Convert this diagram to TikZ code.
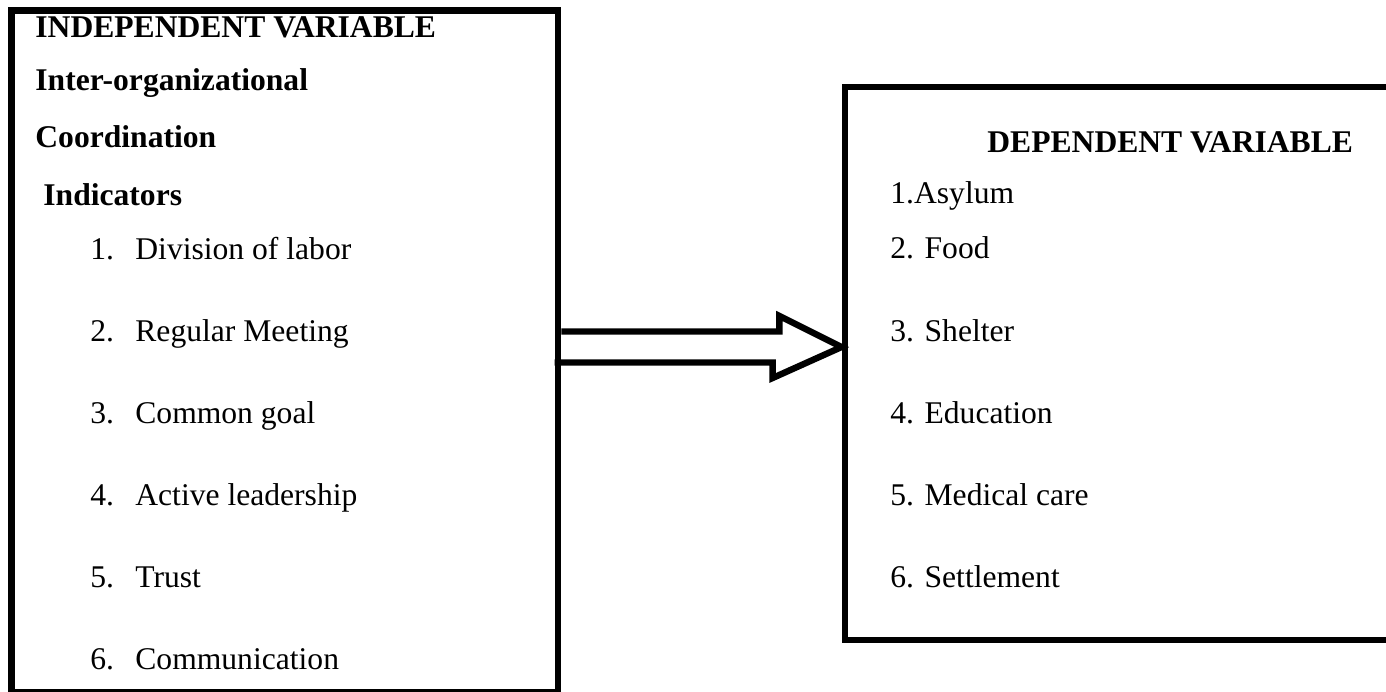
\documentclass[tikz,border=0pt]{standalone}
\usepackage{fontspec}
\setmainfont{Liberation Serif}
\usepackage{tikz}
\usetikzlibrary{positioning}

\tikzset{
  varbox/.style={draw, line width=3.4pt, inner sep=0pt},
  txt/.style={anchor=base west, inner sep=0pt, font=\fontsize{15.8}{19}\selectfont},
  headtxt/.style={txt, font=\fontsize{15.8}{19}\selectfont\bfseries},
  hollowarrow/.style={draw, line width=3.2pt, line join=miter, miter limit=10}
}

\begin{document}
\begin{tikzpicture}[x=0.5pt,y=0.5pt,yscale=-1]
	%set diagram size: 1386 x 691
	\useasboundingbox (0,0) rectangle (1386,691);
	\clip (0,0) rectangle (1386,691);
	
	%Shape: Rectangle [independent variable]
	\node (indep) [varbox, minimum width=273.25pt, minimum height=341pt] at (284.75,351.5) {};
	%Shape: Rectangle [dependent variable]
	\node (dep) [varbox, minimum width=275pt, minimum height=276.5pt] at (1120,363.5) {};
	
	%Shape: Right Arrow
	\coordinate (tail) at (indep.east |- 0,347);
	\coordinate (tip) at (dep.west |- 0,347);
	\draw [hollowarrow] (tail) ++(0,-15.5) -- ++(218,0) -- ++(0,-15.5) -- (tip) -- ++(-69,31) -- ++(0,-15.5) -- ++(-218,0) ;
	
	% Text Node
	\draw (35,37) node (indhead) [headtxt] {INDEPENDENT VARIABLE};
	% Text Node
	\draw (35,90) node (inter) [headtxt] {Inter-organizational};
	% Text Node
	\draw (35,147) node (coord) [headtxt] {Coordination};
	% Text Node
	\draw (43,205) node (indic) [headtxt] {Indicators};
	
	% Text Nodes: indicators
	\foreach \n/\lbl [count=\i from 0] in {1/Division of labor,2/Regular Meeting,3/Common goal,4/Active leadership,5/Trust,6/Communication}{
		\draw (90,259+82*\i) node (num\n) [txt] {\n.};
		\draw (135,259+82*\i) node (ind\n) [txt] {\lbl};
	}
	
	% Text Node
	\draw (987,152) node (dephead) [headtxt] {DEPENDENT VARIABLE};
	% Text Node
	\draw (890,203) node (dep1) [txt] {1.Asylum};
	% Text Node
	\draw (890,258) node (dep2) [txt] {2. Food};
	% Text Node
	\draw (890,341) node (dep3) [txt] {3. Shelter};
	% Text Node
	\draw (890,423) node (dep4) [txt] {4. Education};
	% Text Node
	\draw (890,505) node (dep5) [txt] {5. Medical care};
	% Text Node
	\draw (890,587) node (dep6) [txt] {6. Settlement};
	
\end{tikzpicture}
\end{document}
